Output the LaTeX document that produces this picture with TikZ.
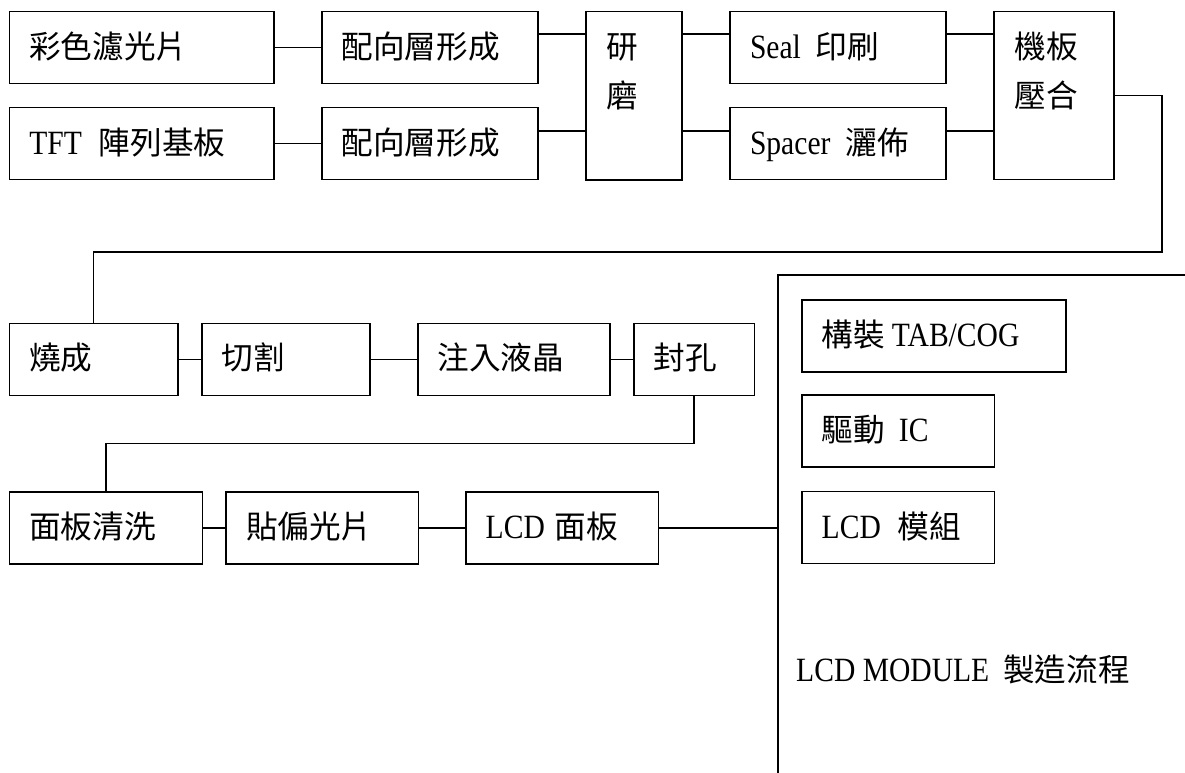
\documentclass[tikz,border=0pt]{standalone}
\usepackage{fontspec}
\setmainfont[FakeStretch=0.87]{Liberation Serif}
\newfontfamily\zhfont[Scale=0.93]{Noto Sans CJK TC}
\usetikzlibrary{calc}
\begin{document}
\begin{tikzpicture}[x=1pt,y=-1pt,
  every node/.style={font=\fontsize{34}{40}\selectfont},
  box/.style={draw, line width=1.6pt, inner xsep=20pt, inner ysep=0pt, outer sep=0pt,
    anchor=north west, align=left, text height=24pt, text depth=2.8pt, minimum height=72pt},
  txt/.style={anchor=base west, inner sep=0pt},
  link/.style={line width=1.6pt}]
\useasboundingbox (0,0) rectangle (1185,773);
% row 1-2
\node[box, text width=224.7pt] (cf) at (9.3,11.7) {{\zhfont 彩色濾光片}};
\node[box, text width=224.7pt] (tft) at (9.3,107.5) {TFT\hspace{17pt}{\zhfont 陣列基板}};
\node[box, text width=176pt] (al1) at (321.7,11.7) {{\zhfont 配向層形成}};
\node[box, text width=176pt] (al2) at (321.7,107.5) {{\zhfont 配向層形成}};
\node[box, text width=56pt, minimum height=168.3pt] (rub) at (586,11.7) {};
\node[txt] (rubtxt) at ([xshift=20.5pt,yshift=-47.2pt]rub.north west)
  {\parbox[t]{60pt}{\zhfont\baselineskip=48.3pt 研\\磨}};
\node[box, text width=176pt] (seal) at (730,11.7) {Seal\hspace{15pt}{\zhfont 印刷}};
\node[box, text width=176pt] (spacer) at (730,107.5) {Spacer\hspace{15pt}{\zhfont 灑佈}};
\node[box, text width=79.7pt, minimum height=167.6pt] (asm) at (994,11.7) {};
\node[txt] (asmtxt) at ([xshift=20.5pt,yshift=-47.2pt]asm.north west)
  {\parbox[t]{90pt}{\zhfont\baselineskip=48.3pt 機板\\壓合}};
% row 3
\node[box, text width=128.4pt] (fire) at (9.3,323.3) {{\zhfont 燒成}};
\node[box, text width=128.3pt] (cut) at (201.7,323.3) {{\zhfont 切割}};
\node[box, text width=152.3pt] (inj) at (417.7,323.3) {{\zhfont 注入液晶}};
\node[box, text width=80.6pt] (hole) at (633.7,323.3) {{\zhfont 封孔}};
% row 4
\node[box, text width=153pt] (clean) at (9.3,491.7) {{\zhfont 面板清洗}};
\node[box, text width=152.3pt] (pol) at (226,491.7) {{\zhfont 貼偏光片}};
\node[box, text width=152.6pt] (panel) at (465.7,491.7) {LCD\hspace{10pt}{\zhfont 面板}};
% module column
\node[box, text width=224.3pt] (tab) at (801.7,300) {{\zhfont 構裝}\hspace{7pt}TAB/COG};
\node[box, text width=152.6pt] (ic) at (801.7,395) {{\zhfont 驅動}\hspace{14pt}IC};
\node[box, text width=152.6pt] (mod) at (801.7,491.5) {LCD\hspace{17pt}{\zhfont 模組}};
\node[txt] (title) at (796,681) {LCD MODULE\hspace{14pt}{\zhfont 製造流程}};
% connectors
\coordinate (y1) at (0,34.3);
\coordinate (y2) at (0,131);
\draw[link] (cf.east) -- (al1.west);
\draw[link] (tft.east) -- (al2.west);
\draw[link] (al1.east |- y1) -- (rub.west |- y1);
\draw[link] (al2.east |- y2) -- (rub.west |- y2);
\draw[link] (rub.east |- y1) -- (seal.west |- y1);
\draw[link] (rub.east |- y2) -- (spacer.west |- y2);
\draw[link] (seal.east |- y1) -- (asm.west |- y1);
\draw[link] (spacer.east |- y2) -- (asm.west |- y2);
\coordinate (t1) at (1161.7,251.7);
\draw[link] (asm.east) -| (t1) -| (fire.north);
\draw[link] (fire.east) -- (cut.west);
\draw[link] (cut.east) -- (inj.west);
\draw[link] (inj.east) -- (hole.west);
\coordinate (t2) at (694,443.5);
\draw[link] (hole.south) -- (t2) -| (clean.north);
\draw[link] (clean.east) -- (pol.west);
\draw[link] (pol.east) -- (panel.west);
\coordinate (bt) at (777.7,275);
\coordinate (bb) at (777.7,773);
\coordinate (br) at (1185,275);
\draw[link] (br) -- (bt) -- (bb);
\draw[link] (panel.east) -- (panel.east -| bt);
\end{tikzpicture}
\end{document}
